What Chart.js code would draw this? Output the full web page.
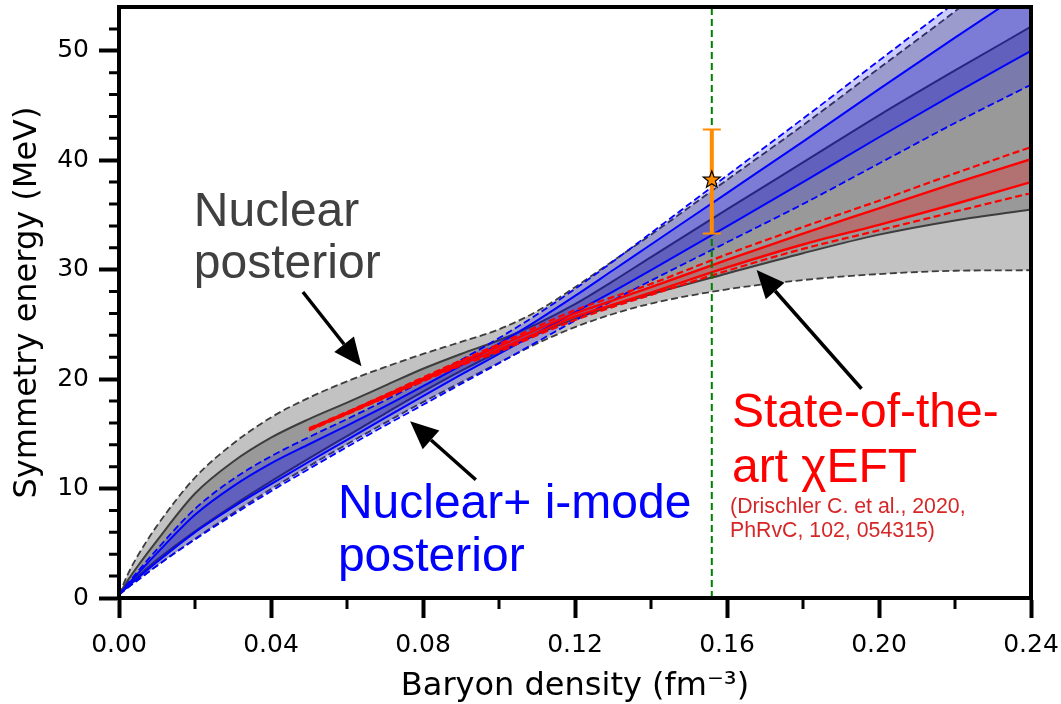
<!DOCTYPE html>
<html>
<head>
<meta charset="utf-8">
<script src="https://cdn.jsdelivr.net/npm/chart.js@4.4.1/dist/chart.umd.min.js"></script>
<style>
html,body{margin:0;padding:0;background:#fff;}
#wrap{width:1061px;height:704px;}
</style>
</head>
<body>
<div id="wrap"><canvas id="c" width="1061" height="704"></canvas></div>
<script>
// ---------- data ----------
const density = [0, 0.0025, 0.005, 0.01, 0.02, 0.03, 0.04, 0.05, 0.06, 0.07, 0.08, 0.09, 0.10, 0.11, 0.12, 0.13, 0.14, 0.16, 0.18, 0.20, 0.22, 0.24];

// Nuclear posterior (grey): 95% (dashed) and 68% (solid) bounds
const nucUpper95 = [0.3, 2.3, 3.9, 6.6, 11.0, 14.1, 16.5, 18.3, 19.8, 21.1, 22.3, 23.4, 24.55, 26.2, 28.4, 30.8, 33.2, 38.2, 43.2, 48.4, 53.6, 59.0];
const nucUpper68 = [0.3, 1.7, 2.95, 5.25, 9.55, 12.45, 14.65, 16.35, 17.85, 19.4, 20.95, 22.3, 23.55, 25.05, 26.85, 28.95, 31.15, 35.5, 39.8, 44.1, 48.2, 52.2];
const nucLower68 = [0.3, 1.2, 2.0, 3.5, 6.1, 8.45, 10.65, 12.75, 14.8, 16.85, 18.85, 20.75, 22.5, 24.1, 25.5, 26.7, 27.75, 29.65, 31.5, 33.2, 34.5, 35.5];
const nucLower95 = [0.3, 1.0, 1.65, 2.95, 5.4, 7.75, 9.95, 12.05, 14.05, 16.0, 17.9, 19.7, 21.5, 23.25, 24.75, 25.95, 26.9, 28.2, 29.05, 29.6, 29.9, 29.95];

// Nuclear + i-mode posterior (blue)
const imodeUpper95 = [0.3, 1.4, 2.45, 4.45, 8.15, 10.85, 12.95, 14.7, 16.35, 18.05, 19.85, 21.75, 23.75, 25.9, 28.25, 30.75, 33.35, 38.6, 43.8, 49.1, 54.4, 59.7];
const imodeUpper68 = [0.3, 1.3, 2.25, 4.1, 7.6, 10.2, 12.3, 14.05, 15.75, 17.5, 19.35, 21.25, 23.25, 25.35, 27.6, 29.95, 32.3, 37.0, 41.7, 46.5, 51.2, 55.8];
const imodeLower68 = [0.3, 1.1, 1.85, 3.3, 6.0, 8.3, 10.4, 12.45, 14.45, 16.45, 18.45, 20.4, 22.3, 24.2, 26.1, 28.0, 29.95, 33.95, 38.0, 42.1, 46.1, 50.0];
const imodeLower95 = [0.3, 1.0, 1.65, 2.95, 5.35, 7.6, 9.75, 11.8, 13.8, 15.75, 17.65, 19.55, 21.45, 23.4, 25.35, 27.2, 29.0, 32.5, 36.0, 39.7, 43.4, 46.9];

// Chiral EFT (red)
const eftDensity = [0.05, 0.06, 0.07, 0.08, 0.09, 0.10, 0.11, 0.12, 0.13, 0.14, 0.16, 0.18, 0.20, 0.22, 0.24];
const eftUpper95 = [15.5, 17.0, 18.55, 20.15, 21.7, 23.2, 24.8, 26.3, 27.5, 28.7, 31.4, 33.9, 36.3, 38.8, 41.2];
const eftUpper68 = [15.45, 16.95, 18.5, 20.05, 21.6, 23.0, 24.55, 26.0, 27.2, 28.4, 30.9, 33.3, 35.6, 37.9, 40.1];
const eftLower68 = [15.35, 16.85, 18.35, 19.9, 21.35, 22.7, 24.2, 25.7, 26.8, 27.9, 30.2, 32.3, 34.1, 36.0, 38.0];
const eftLower95 = [15.3, 16.8, 18.3, 19.8, 21.25, 22.5, 24.0, 25.4, 26.6, 27.7, 29.9, 31.9, 33.6, 35.3, 37.0];

// Saturation density marker and measurement with error bar
const saturationDensity = [0.156];
const measurementValue = [38.2];
const measurementLow = [33.3];
const measurementHigh = [42.8];

// Axes
const xTickValues = [0, 0.04, 0.08, 0.12, 0.16, 0.20, 0.24];
const xTickLabels = ['0.00', '0.04', '0.08', '0.12', '0.16', '0.20', '0.24'];
const xMinorTicks = [0.02, 0.06, 0.10, 0.14, 0.18, 0.22];
const yTickValues = [0, 10, 20, 30, 40, 50];
const yTickLabels = ['0', '10', '20', '30', '40', '50'];
const yMinorTicks = [2, 4, 6, 8, 12, 14, 16, 18, 22, 24, 26, 28, 32, 34, 36, 38, 42, 44, 46, 48, 52];

// ---------- helpers ----------
const pts = (xs, ys) => xs.map((v, i) => ({x: v, y: ys[i]}));
const GREY_LINE = '#3d3d3d';

function lineDS(label, xs, ys, color, width, dash, order, fill) {
  return {
    label, data: pts(xs, ys), borderColor: color, borderWidth: width,
    borderDash: dash || [], pointRadius: 0, fill: fill || false,
    cubicInterpolationMode: 'monotone', order
  };
}

const datasets = [
  lineDS('nuc95u', density, nucUpper95, GREY_LINE, 1.8, [7, 3.5], 20, {target: 1, above: '#c2c2c2', below: '#c2c2c2'}),
  lineDS('nuc95l', density, nucLower95, GREY_LINE, 1.8, [7, 3.5], 19),
  lineDS('nuc68u', density, nucUpper68, GREY_LINE, 2, null, 18, {target: 3, above: '#999999', below: '#999999'}),
  lineDS('nuc68l', density, nucLower68, GREY_LINE, 2, null, 17),
  lineDS('im95u', density, imodeUpper95, '#0000ff', 1.8, [7, 3.5], 16, {target: 5, above: 'rgba(0,0,255,0.2)', below: 'rgba(0,0,255,0.2)'}),
  lineDS('im95l', density, imodeLower95, '#0000ff', 1.8, [7, 3.5], 15),
  lineDS('im68u', density, imodeUpper68, '#0000ff', 2, null, 14, {target: 7, above: 'rgba(0,0,255,0.2)', below: 'rgba(0,0,255,0.2)'}),
  lineDS('im68l', density, imodeLower68, '#0000ff', 2, null, 13),
  lineDS('eft68u', eftDensity, eftUpper68, '#ff0000', 2.4, null, 12, {target: 9, above: 'rgba(255,0,0,0.25)', below: 'rgba(255,0,0,0.25)'}),
  lineDS('eft68l', eftDensity, eftLower68, '#ff0000', 2.4, null, 11),
  lineDS('eft95u', eftDensity, eftUpper95, '#ff0000', 2.2, [7, 3.5], 10),
  lineDS('eft95l', eftDensity, eftLower95, '#ff0000', 2.2, [7, 3.5], 9),
  {
    label: 'nsat', data: [{x: saturationDensity[0], y: 0}, {x: saturationDensity[0], y: 54}],
    borderColor: '#008000', borderWidth: 2, borderDash: [7, 4], pointRadius: 0, fill: false, order: 8
  }
];

// annotations positioned in data units
const annotations = [
  {lines: ['Nuclear', 'posterior'], x: 0.0197, y: [33.95, 29.2], color: '#404040', size: 48},
  {lines: ['Nuclear+ i-mode', 'posterior'], x: 0.0576, y: [7.33, 2.5], color: '#0000ff', size: 48},
  {lines: ['State-of-the-', 'art \u03c7EFT'], x: 0.1613, y: [15.66, 10.62], color: '#ff0000', size: 48},
  {lines: ['(Drischler C. et al., 2020,', 'PhRvC, 102, 054315)'], x: 0.1608, y: [7.78, 5.56], color: '#d62728', size: 21.3}
];
const arrows = [
  {from: [0.0484, 27.96], to: [0.0638, 21.18]},
  {from: [0.0939, 10.81], to: [0.0766, 16.14]},
  {from: [0.1954, 19.12], to: [0.1678, 29.97]}
];

const extras = {
  id: 'extras',
  afterDatasetsDraw(chart) {
    const {ctx, scales: {x, y}} = chart;
    ctx.save();
    // error bar
    const ex = x.getPixelForValue(saturationDensity[0]);
    const yl = y.getPixelForValue(measurementLow[0]);
    const yh = y.getPixelForValue(measurementHigh[0]);
    ctx.strokeStyle = '#ff8c00';
    ctx.lineWidth = 4;
    ctx.beginPath(); ctx.moveTo(ex, yl); ctx.lineTo(ex, yh); ctx.stroke();
    ctx.lineWidth = 2;
    ctx.beginPath();
    ctx.moveTo(ex - 9, yl); ctx.lineTo(ex + 9, yl);
    ctx.moveTo(ex - 9, yh); ctx.lineTo(ex + 9, yh);
    ctx.stroke();
    // star marker
    const sy = y.getPixelForValue(measurementValue[0]);
    const R = 9, r = 3.8;
    ctx.beginPath();
    for (let i = 0; i < 10; i++) {
      const ang = -Math.PI / 2 + i * Math.PI / 5;
      const rad = i % 2 === 0 ? R : r;
      const px = ex + rad * Math.cos(ang), py = sy + rad * Math.sin(ang);
      if (i === 0) ctx.moveTo(px, py); else ctx.lineTo(px, py);
    }
    ctx.closePath();
    ctx.fillStyle = '#ff8c00';
    ctx.fill();
    ctx.strokeStyle = '#000';
    ctx.lineWidth = 1.2;
    ctx.stroke();
    ctx.restore();
  },
  afterDraw(chart) {
    const {ctx, chartArea: a, scales: {x, y}} = chart;
    ctx.save();
    // spines
    ctx.strokeStyle = '#000';
    ctx.lineWidth = 4;
    ctx.strokeRect(a.left, a.top, a.right - a.left, a.bottom - a.top);
    // minor ticks
    ctx.lineWidth = 3;
    ctx.beginPath();
    xMinorTicks.forEach(v => {
      const px = x.getPixelForValue(v);
      ctx.moveTo(px, a.bottom); ctx.lineTo(px, a.bottom + 11);
    });
    yMinorTicks.forEach(v => {
      const py = y.getPixelForValue(v);
      ctx.moveTo(a.left, py); ctx.lineTo(a.left - 10, py);
    });
    ctx.stroke();
    // arrows
    ctx.fillStyle = '#000';
    ctx.strokeStyle = '#000';
    arrows.forEach(ar => {
      const x0 = x.getPixelForValue(ar.from[0]), y0 = y.getPixelForValue(ar.from[1]);
      const x1 = x.getPixelForValue(ar.to[0]), y1 = y.getPixelForValue(ar.to[1]);
      const ang = Math.atan2(y1 - y0, x1 - x0);
      const hl = 28, hw = 12.5;
      const bx = x1 - hl * Math.cos(ang), by = y1 - hl * Math.sin(ang);
      ctx.lineWidth = 3.5;
      ctx.beginPath(); ctx.moveTo(x0, y0); ctx.lineTo(bx, by); ctx.stroke();
      ctx.beginPath();
      ctx.moveTo(x1, y1);
      ctx.lineTo(bx + hw * Math.sin(ang), by - hw * Math.cos(ang));
      ctx.lineTo(bx - hw * Math.sin(ang), by + hw * Math.cos(ang));
      ctx.closePath();
      ctx.fill();
    });
    // annotation texts
    ctx.textAlign = 'left';
    ctx.textBaseline = 'alphabetic';
    annotations.forEach(an => {
      ctx.fillStyle = an.color;
      ctx.font = an.size + 'px "Liberation Sans", Arial, sans-serif';
      an.lines.forEach((t, i) => {
        ctx.fillText(t, x.getPixelForValue(an.x), y.getPixelForValue(an.y[i]));
      });
    });
    ctx.restore();
  }
};

const tickFont = {family: '"DejaVu Sans", sans-serif', size: 25};
const titleFont = {family: '"DejaVu Sans", sans-serif', size: 32, lineHeight: 1};
const noPad = s => { s.paddingTop = 0; s.paddingBottom = 0; s.paddingLeft = 0; s.paddingRight = 0; };

new Chart(document.getElementById('c'), {
  type: 'line',
  data: {datasets},
  options: {
    responsive: false,
    animation: false,
    devicePixelRatio: 1,
    layout: {autoPadding: false, padding: {top: 7, right: 30, left: 0, bottom: 0}},
    plugins: {legend: {display: false}, tooltip: {enabled: false}, filler: {propagate: false}},
    scales: {
      x: {
        type: 'linear', min: 0, max: 0.24,
        afterBuildTicks: s => { s.ticks = xTickValues.map(v => ({value: v})); },
        afterFit: s => { s.height = 106; noPad(s); },
        ticks: {autoSkip: false, maxRotation: 0, padding: 12, color: '#000', font: tickFont,
                callback: (v, i) => xTickLabels[i]},
        grid: {display: true, drawOnChartArea: false, drawTicks: true, tickLength: 20, tickWidth: 4, tickColor: '#000'},
        border: {display: true, width: 4, color: '#000'},
        title: {display: true, text: 'Baryon density (fm\u207B\u00B3)', color: '#000', font: titleFont, padding: {top: 0, bottom: 1}}
      },
      y: {
        type: 'linear', min: 0, max: 54,
        afterBuildTicks: s => { s.ticks = yTickValues.map(v => ({value: v})); },
        afterFit: s => { s.width = 119; noPad(s); },
        ticks: {autoSkip: false, padding: 10, color: '#000', font: tickFont,
                callback: (v, i) => yTickLabels[i]},
        grid: {display: true, drawOnChartArea: false, drawTicks: true, tickLength: 20, tickWidth: 4, tickColor: '#000'},
        border: {display: true, width: 4, color: '#000'},
        title: {display: true, text: 'Symmetry energy (MeV)', color: '#000', font: titleFont, padding: {top: 12, bottom: 0}}
      }
    }
  },
  plugins: [extras]
});
</script>
</body>
</html>
